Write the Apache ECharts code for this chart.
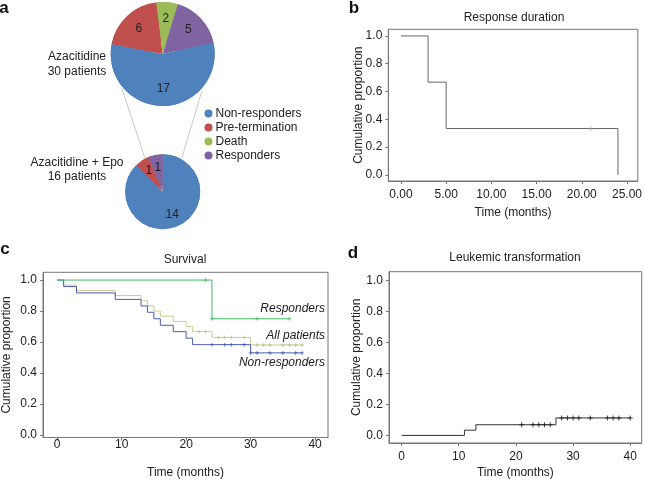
<!DOCTYPE html>
<html><head><meta charset="utf-8">
<script src="https://cdn.jsdelivr.net/npm/echarts@6/dist/echarts.min.js"></script>
<style>html,body{margin:0;padding:0;background:#fff}#c{width:645px;height:480px}</style>
</head><body><div id="c"></div>
<script>
// ---- panel a: pies ----
const pieCategories = ['Non-responders', 'Pre-termination', 'Death', 'Responders'];
const azaCounts = [17, 6, 2, 5];
const azaEpoCounts = [14, 1, 0, 1];
const pieColors = ['#4f81bd', '#c0504d', '#9bbb59', '#8064a2'];

// ---- panel b: response duration ----
const bTime = [0, 3, 5, 24];
const bProp = [1, 0.667, 0.333, 0];
const bCensTime = [21];
const bCensProp = [0.333];
const bTicks = [0, 5, 10, 15, 20, 25];

// ---- panel c: survival ----
const cRespTime = [0, 24, 36];
const cRespProp = [1, 0.75, 0.75];
const cRespCensTime = [23, 24, 31, 36];
const cRespCensProp = [1, 0.75, 0.75, 0.75];
const cAllTime = [0, 1, 3, 9, 13, 14, 15, 16, 18, 20, 21, 24, 30, 38];
const cAllProp = [1, 0.967, 0.933, 0.9, 0.867, 0.833, 0.8, 0.767, 0.733, 0.7, 0.667, 0.63, 0.581, 0.581];
const cAllCensTime = [22, 23, 25, 26, 27, 29, 31, 32, 33, 35, 36, 37, 38];
const cAllCensProp = [0.667, 0.667, 0.63, 0.63, 0.63, 0.63, 0.581, 0.581, 0.581, 0.581, 0.581, 0.581, 0.581];
const cNonTime = [0, 1, 3, 9, 13, 14, 15, 16, 18, 20, 21, 30, 38];
const cNonProp = [1, 0.958, 0.917, 0.875, 0.833, 0.792, 0.75, 0.708, 0.667, 0.625, 0.583, 0.53, 0.53];
const cNonCensTime = [24, 26, 27, 29, 30, 31, 33, 35, 37, 38];
const cNonCensProp = [0.583, 0.583, 0.583, 0.583, 0.53, 0.53, 0.53, 0.53, 0.53, 0.53];

// ---- panel d: leukemic transformation ----
const dTime = [0, 11, 13, 27, 40];
const dProp = [0, 0.034, 0.069, 0.113, 0.113];
const dCensTime = [21, 23, 24, 25, 26, 28, 29, 30, 31, 33, 36, 37, 38, 40];
const dCensProp = [0.069, 0.069, 0.069, 0.069, 0.069, 0.113, 0.113, 0.113, 0.113, 0.113, 0.113, 0.113, 0.113, 0.113];

const timeTicks = [0, 10, 20, 30, 40];
const propTicks = [0, 0.2, 0.4, 0.6, 0.8, 1];

const FONT = "'Liberation Sans', Arial, Helvetica, sans-serif";
const TXT = '#222';
const AX = '#777';
const zip = (a, b) => a.map((v, i) => [v, b[i]]);
const CROSS = 'path://M2,0H3V2H5V3H3V5H2V3H0V2H2Z';

function xAx(grid, min, max, ticks, fmt, gap, margin) {
  return {
    gridIndex: grid, type: 'value', min, max,
    splitLine: { show: false },
    axisLine: { show: true, onZero: false, lineStyle: { color: AX, width: 1 } },
    axisTick: { show: true, inside: false, length: 3, customValues: ticks, lineStyle: { color: AX } },
    axisLabel: { customValues: ticks, formatter: fmt, margin, color: TXT, fontSize: 12, fontFamily: FONT },
    name: 'Time (months)', nameLocation: 'middle', nameGap: gap, nameMoveOverlap: false,
    nameTextStyle: { color: TXT, fontSize: 12, fontFamily: FONT }
  };
}
function yAx(grid, min, max, gap) {
  return {
    gridIndex: grid, type: 'value', min, max,
    splitLine: { show: false },
    axisLine: { show: true, onZero: false, lineStyle: { color: AX, width: 1 } },
    axisTick: { show: true, inside: false, length: 3, customValues: propTicks, lineStyle: { color: AX } },
    axisLabel: { customValues: propTicks, formatter: v => v.toFixed(1), margin: 6, color: TXT, fontSize: 12, fontFamily: FONT },
    name: 'Cumulative proportion', nameLocation: 'middle', nameGap: gap, nameRotate: 90, nameMoveOverlap: false,
    nameTextStyle: { color: TXT, fontSize: 12, fontFamily: FONT }
  };
}
function km(xi, data, color, width) {
  return { type: 'line', xAxisIndex: xi, yAxisIndex: xi, data, step: 'end', showSymbol: false,
    lineStyle: { color, width: width || 1 }, silent: true, animation: false, z: 3 };
}
function cens(xi, data, color, size) {
  return { type: 'scatter', xAxisIndex: xi, yAxisIndex: xi, data, symbol: CROSS, symbolSize: size || 4,
    itemStyle: { color }, silent: true, animation: false, z: 4 };
}
function pieData(counts) {
  return pieCategories.map((n, i) => ({ name: n, value: counts[i], itemStyle: { color: pieColors[i] } }));
}
function pieSeries(center, radius, start, counts, labels) {
  return {
    type: 'pie', center, radius, startAngle: start, clockwise: true, animation: false,
    data: pieData(counts), silent: !!labels, emphasis: { disabled: true },
    itemStyle: labels ? { color: 'transparent', borderWidth: 0 } : { borderWidth: 0 },
    label: labels ? { show: true, position: 'inside', color: TXT, fontSize: 12, fontFamily: FONT,
      formatter: p => (p.value ? String(p.value) : '') } : { show: false },
    labelLine: { show: false }
  };
}
function txt(text, x, y, opts) {
  return { type: 'text', x, y, silent: true, style: Object.assign({ text, fill: TXT, font: '12px ' + FONT,
    textAlign: 'center', textVerticalAlign: 'middle' }, opts || {}) };
}

const chart = echarts.init(document.getElementById('c'), null, { renderer: 'canvas' });
chart.setOption({
  animation: false,
  backgroundColor: '#fff',
  grid: [
    { left: 388.3, top: 29.3, width: 251.7, height: 151.7, show: true, borderColor: AX, borderWidth: 1 },
    { left: 42.3, top: 272.3, width: 285.7, height: 165.2, show: true, borderColor: AX, borderWidth: 1 },
    { left: 389, top: 271.7, width: 252.7, height: 171.6, show: true, borderColor: AX, borderWidth: 1 }
  ],
  xAxis: [
    xAx(0, -1.4, 26.2, bTicks, v => v.toFixed(2), 26, 8),
    xAx(1, -2.2, 42, timeTicks, v => String(v), 29, 1),
    xAx(2, -2.2, 42, timeTicks, v => String(v), 24, 8)
  ],
  yAxis: [
    yAx(0, -0.045, 1.048, 24),
    yAx(1, -0.016, 1.05, 30),
    yAx(2, -0.049, 1.058, 26)
  ],
  legend: {
    data: pieCategories, orient: 'vertical', left: 204.5, top: 107.5, padding: 0,
    icon: 'circle', itemWidth: 8, itemHeight: 8, itemGap: 2, selectedMode: false,
    textStyle: { color: TXT, fontSize: 12, fontFamily: FONT, lineHeight: 12, padding: [0, 0, 0, -2] }
  },
  series: [
    pieSeries([162.7, 54], 52, 13, azaCounts, false),
    pieSeries([162.7, 54], [12, 52], 13, azaCounts, true),
    pieSeries([162.7, 191.7], 37.5, 90, azaEpoCounts, false),
    pieSeries([162.7, 191.7], [6, 37.5], 90, azaEpoCounts, true),
    km(0, zip(bTime, bProp), '#666'),
    cens(0, zip(bCensTime, bCensProp), '#888'),
    km(1, zip(cAllTime, cAllProp), '#cdcd92'),
    km(1, zip(cNonTime, cNonProp), '#4c5db3'),
    km(1, zip(cRespTime, cRespProp), '#3cbf62'),
    cens(1, zip(cAllCensTime, cAllCensProp), '#b8b87c'),
    cens(1, zip(cNonCensTime, cNonCensProp), '#3646a8'),
    cens(1, zip(cRespCensTime, cRespCensProp), '#2fae52'),
    km(2, zip(dTime, dProp), '#333'),
    cens(2, zip(dCensTime, dCensProp), '#111', 5)
  ],
  graphic: [
    { type: 'line', silent: true, z: -1, shape: { x1: 121.7, y1: 88, x2: 145, y2: 158.3 }, style: { stroke: '#c8c8c8', lineWidth: 1 } },
    { type: 'line', silent: true, z: -1, shape: { x1: 201.7, y1: 91.7, x2: 181.7, y2: 158.3 }, style: { stroke: '#c8c8c8', lineWidth: 1 } },
    txt('a', 4, 8, { font: 'bold 17px ' + FONT, fill: '#111' }),
    txt('b', 354, 8, { font: 'bold 17px ' + FONT, fill: '#111' }),
    txt('c', 5, 249, { font: 'bold 17px ' + FONT, fill: '#111' }),
    txt('d', 353, 253, { font: 'bold 17px ' + FONT, fill: '#111' }),
    txt('Azacitidine', 77, 57),
    txt('30 patients', 77, 72),
    txt('Azacitidine + Epo', 77, 163),
    txt('16 patients', 77, 177),
    txt('Response duration', 514, 18),
    txt('Survival', 185, 260),
    txt('Leukemic transformation', 515, 258),
    txt('Responders', 325, 309, { textAlign: 'right', font: 'italic 12px ' + FONT }),
    txt('All patients', 325, 336, { textAlign: 'right', font: 'italic 12px ' + FONT }),
    txt('Non-responders', 325, 363, { textAlign: 'right', font: 'italic 12px ' + FONT })
  ]
});
</script></body></html>
